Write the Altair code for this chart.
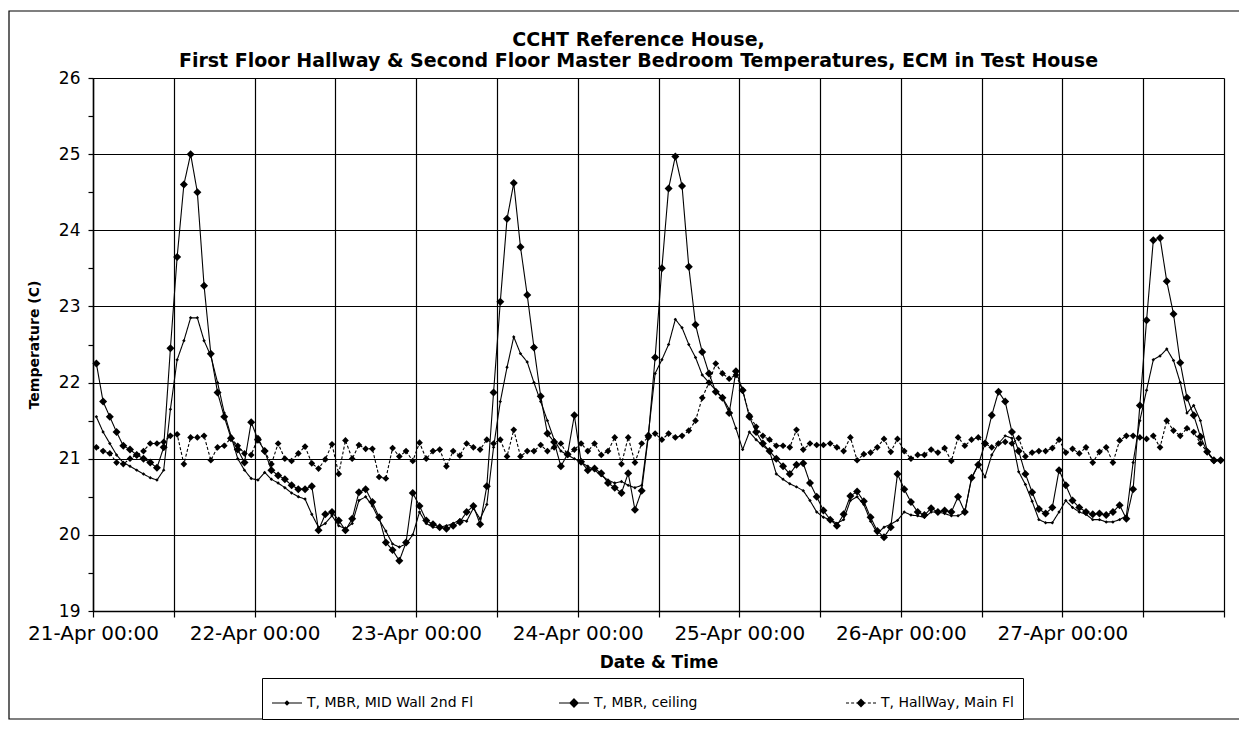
import altair as alt
import pandas as pd

SERIES = ["T, MBR, MID Wall 2nd Fl", "T, MBR, ceiling", "T, HallWay, Main Fl"]

# hourly readings, first reading 21-Apr 00:30
mid_wall = [
    21.55, 21.35, 21.2, 21.05, 20.95, 20.9, 20.85, 20.8, 20.75, 20.72, 20.85, 21.65,
    22.3, 22.55, 22.85, 22.85, 22.55, 22.35, 22.0, 21.6, 21.3, 21.0, 20.85, 20.74,
    20.72, 20.82, 20.73, 20.68, 20.62, 20.55, 20.5, 20.47, 20.27, 20.1, 20.15, 20.25,
    20.12, 20.08, 20.15, 20.45, 20.5, 20.38, 20.2, 20.05, 19.88, 19.84, 19.88, 20.0,
    20.3, 20.15, 20.1, 20.1, 20.12, 20.15, 20.2, 20.18, 20.35, 20.21, 20.4, 21.15,
    21.75, 22.2, 22.6, 22.38, 22.27, 22.0, 21.75, 21.5, 21.25, 21.1, 21.05, 21.0,
    20.95, 20.9, 20.85, 20.78, 20.72, 20.68, 20.7, 20.65, 20.62, 20.65, 21.33, 22.12,
    22.3, 22.5, 22.83, 22.72, 22.5, 22.33, 22.1, 22.0, 21.9, 21.8, 21.65, 21.4,
    21.12, 21.35, 21.25, 21.17, 21.1, 20.8, 20.73, 20.67, 20.63, 20.58, 20.45, 20.3,
    20.23, 20.2, 20.15, 20.2, 20.45, 20.5, 20.4, 20.18, 20.02, 20.1, 20.14, 20.19,
    20.3, 20.26, 20.25, 20.23, 20.3, 20.3, 20.28, 20.25, 20.25, 20.3, 20.74, 20.92,
    20.76, 21.05, 21.2, 21.3, 21.27, 20.83, 20.66, 20.44, 20.2, 20.16, 20.16, 20.3,
    20.45, 20.36, 20.3, 20.27, 20.2, 20.2, 20.17, 20.17, 20.2, 20.25, 20.95, 21.5,
    21.9, 22.3, 22.35, 22.44, 22.29, 22.0, 21.6, 21.7, 21.5, 21.1, 20.98, 20.97,
]

ceiling = [
    22.25, 21.75, 21.55, 21.35, 21.17, 21.12, 21.05, 21.0, 20.95, 20.88, 21.15, 22.45,
    23.65, 24.6, 25.0, 24.5, 23.27, 22.38, 21.87, 21.55, 21.27, 21.12, 20.95, 21.48,
    21.25, 21.1, 20.85, 20.78, 20.73, 20.65, 20.6, 20.6, 20.64, 20.06, 20.27, 20.3,
    20.19, 20.06, 20.21, 20.56, 20.6, 20.43, 20.23, 19.9, 19.8, 19.66, 19.9, 20.55,
    20.38, 20.19, 20.14, 20.1, 20.08, 20.12, 20.17, 20.3, 20.38, 20.14, 20.64, 21.87,
    23.06, 24.15, 24.62, 23.78, 23.15, 22.46, 21.82, 21.33, 21.22, 20.9, 21.06, 21.57,
    20.96, 20.85, 20.87, 20.81, 20.68, 20.62, 20.55, 20.81, 20.33, 20.58, 21.3, 22.33,
    23.5, 24.55, 24.97, 24.58, 23.52, 22.76, 22.4, 22.12, 21.88, 21.8, 21.6, 22.15,
    21.9, 21.55, 21.35, 21.2, 21.1, 21.0, 20.9, 20.8, 20.92, 20.94, 20.68, 20.5,
    20.32, 20.2, 20.12, 20.27, 20.51, 20.57, 20.44, 20.23, 20.05, 19.97, 20.1, 20.8,
    20.6, 20.43, 20.3, 20.26, 20.35, 20.3, 20.32, 20.3, 20.5, 20.3, 20.75, 20.92,
    21.2, 21.57, 21.88, 21.75, 21.35, 21.1, 20.8, 20.56, 20.34, 20.28, 20.36, 20.85,
    20.65, 20.45, 20.36, 20.3, 20.27, 20.28, 20.26, 20.3, 20.39, 20.21, 20.6, 21.7,
    22.82, 23.87, 23.9, 23.33, 22.9, 22.26, 21.8, 21.57, 21.29, 21.09, 20.98, 20.98,
]

hallway = [
    21.15, 21.1, 21.07, 20.95, 20.93, 21.0, 21.05, 21.1, 21.2, 21.2, 21.22, 21.3,
    21.32, 20.93, 21.28, 21.28, 21.3, 20.98, 21.15, 21.17, 21.27, 21.17, 21.07, 21.05,
    21.27, 21.1, 20.93, 21.2, 21.0, 20.97, 21.07, 21.16, 20.94, 20.87, 20.99, 21.19,
    20.8, 21.24, 21.0, 21.18, 21.13, 21.13, 20.76, 20.74, 21.14, 21.03, 21.1, 20.97,
    21.21, 21.0, 21.1, 21.12, 20.9, 21.1, 21.04, 21.2, 21.15, 21.12, 21.25, 21.2,
    21.25, 21.03, 21.38, 21.03, 21.1, 21.1, 21.18, 21.1, 21.15, 21.2, 21.05, 21.12,
    21.2, 21.1, 21.2, 21.05, 21.1, 21.28, 20.93, 21.28, 20.95, 21.2, 21.28, 21.33,
    21.25, 21.33, 21.28, 21.3, 21.37, 21.5, 21.8, 22.0, 22.25, 22.12, 22.05, 22.1,
    21.9, 21.57, 21.42, 21.3, 21.25, 21.17, 21.17, 21.15, 21.38, 21.12, 21.2, 21.18,
    21.18, 21.2, 21.15, 21.1, 21.28, 20.98, 21.06, 21.08, 21.15, 21.26, 21.09, 21.26,
    21.1, 21.0, 21.05, 21.05, 21.12, 21.08, 21.14, 20.97, 21.28, 21.17, 21.25, 21.28,
    21.2, 21.15, 21.2, 21.22, 21.2, 21.27, 21.03, 21.08, 21.1, 21.1, 21.14, 21.25,
    21.08, 21.13, 21.07, 21.15, 20.95, 21.09, 21.15, 20.95, 21.24, 21.3, 21.3, 21.28,
    21.26, 21.3, 21.15, 21.5, 21.37, 21.3, 21.4, 21.35, 21.2, 21.09, 20.97, 20.98,
]

TITLE = ["CCHT Reference House,",
         "First Floor Hallway & Second Floor Master Bedroom Temperatures, ECM in Test House"]
X_TITLE = "Date & Time"
Y_TITLE = "Temperature (C)"
Y_TICKS = [19, 19.5, 20, 20.5, 21, 21.5, 22, 22.5, 23, 23.5, 24, 24.5, 25, 25.5, 26]
TICK_DAYS = [21, 22, 23, 24, 25, 26, 27, 28]

# per-series styling keyed by name
DASH = {SERIES[0]: [1, 0], SERIES[1]: [1, 0], SERIES[2]: [3, 2]}
MARK_SIZE = {SERIES[0]: 12, SERIES[1]: 64, SERIES[2]: 45}
# reordered (but explicit) domain for the hidden dash scale, so its hidden
# legend is not merged with the visible shape legend
STYLE_DOMAIN = [SERIES[2], SERIES[0], SERIES[1]]

first_reading = "2003-04-21 00:30"
times = pd.date_range(first_reading, periods=len(ceiling), freq="h")
rows = []
for name, vals in zip(SERIES, [mid_wall, ceiling, hallway]):
    for t, v in zip(times, vals):
        rows.append({"time": t.strftime("%Y-%m-%dT%H:%M:%S"), "series": name, "temp": v})
df = pd.DataFrame(rows)

FONT = "DejaVu Sans"

x_ticks = []
for d in TICK_DAYS:
    for hh in (0, 12):
        if d == 28 and hh == 12:
            continue
        x_ticks.append(alt.DateTime(year=2003, month=4, date=d, hours=hh))

x_enc = alt.X(
    "time:T",
    scale=alt.Scale(domain=[alt.DateTime(year=2003, month=4, date=21),
                            alt.DateTime(year=2003, month=4, date=28)]),
    axis=alt.Axis(
        values=x_ticks,
        labelExpr="hours(datum.value) == 0 && date(datum.value) < 28 ? timeFormat(datum.value, '%d-%b %H:%M') : ''",
        labelFont=FONT, labelFontSize=20, labelColor="black",
        labelFlush=False, labelOverlap=False, labelBound=False,
        labelPadding=6, tickSize=6, tickColor="black", tickWidth=1.2,
        domainColor="black", domainWidth=1.5,
        grid=True, gridColor="black", gridWidth=1.2,
        title=X_TITLE, titleFont=FONT, titleFontSize=17, titleFontWeight="bold",
        titleColor="black", titlePadding=11,
    ),
)

y_enc = alt.Y(
    "temp:Q",
    scale=alt.Scale(domain=[19, 26], nice=False, zero=False),
    axis=alt.Axis(
        values=Y_TICKS,
        labelExpr="datum.value % 1 === 0 ? format(datum.value, 'd') : ''",
        labelFont=FONT, labelFontSize=17, labelColor="black", labelPadding=8,
        labelOverlap=False, labelFlush=False,
        tickSize=5, tickColor="black", tickWidth=1.2,
        domainColor="black", domainWidth=1.5,
        grid=True,
        gridColor={"condition": {"test": "datum.value % 1 === 0", "value": "black"},
                   "value": "transparent"},
        gridWidth=1.2,
        title=Y_TITLE, titleFont=FONT, titleFontSize=14, titleFontWeight="bold",
        titleColor="black", titlePadding=17,
    ),
)

base = alt.Chart(df)

frame = alt.Chart(alt.Data(values=[{}])).mark_rect(
    fillOpacity=0, stroke="black", strokeWidth=1.2
).encode(
    x=alt.value(-84), x2=alt.value(1200), y=alt.value(-67), y2=alt.value(641)
)

lines = base.mark_line(color="black", strokeWidth=1.1).encode(
    x=x_enc, y=y_enc,
    detail="series:N",
    strokeDash=alt.StrokeDash(
        "series:N",
        scale=alt.Scale(domain=STYLE_DOMAIN, range=[DASH[s] for s in STYLE_DOMAIN]),
        legend=None,
    ),
)

# one marker layer per series (fixed marker size for each)
marker_layers = [
    base.transform_filter(alt.datum.series == s).mark_point(
        filled=True, shape="diamond", color="black", opacity=1, size=MARK_SIZE[s]
    ).encode(x=x_enc, y=y_enc)
    for s in SERIES
]

# legend symbols: line segment(s) with a marker, drawn as strokes only
_solid_diamond_small = "M0,-0.13L0.13,0L0,0.13L-0.13,0ZM0,-0.06L0.06,0L0,0.06L-0.06,0Z"
_solid_diamond_big = ("M0,-0.27L0.27,0L0,0.27L-0.27,0Z"
                      "M0,-0.19L0.19,0L0,0.19L-0.19,0Z"
                      "M0,-0.11L0.11,0L0,0.11L-0.11,0Z"
                      "M0,-0.27L0,0.27")
_solid_diamond_mid = ("M0,-0.24L0.24,0L0,0.24L-0.24,0Z"
                      "M0,-0.16L0.16,0L0,0.16L-0.16,0Z"
                      "M0,-0.08L0.08,0L0,0.08L-0.08,0Z"
                      "M0,-0.24L0,0.24")
LEGEND_SHAPES = [
    "M-1,0L1,0" + _solid_diamond_small,
    "M-1,0L1,0" + _solid_diamond_big,
    "M-1,0L-0.8,0M-0.66,0L-0.46,0M-0.32,0L0.32,0M0.46,0L0.66,0M0.8,0L1,0" + _solid_diamond_mid,
]

# legend-only layer: rows filtered away, legend built from the explicit scale domain
legend_layer = base.transform_filter("datum.temp > 100").mark_point(
    filled=False, color="black", strokeWidth=1.2, size=900, opacity=1
).encode(
    x=x_enc, y=y_enc,
    shape=alt.Shape(
        "series:N",
        scale=alt.Scale(domain=SERIES, range=LEGEND_SHAPES),
        legend=alt.Legend(
            title=None, orient="none", legendX=169, legendY=600,
            direction="horizontal", columns=3, gridAlign="all", columnPadding=82,
            padding=9, strokeColor="black", fillColor="white",
            symbolSize=900, symbolStrokeColor="black", symbolStrokeWidth=1.2,
            symbolOpacity=1, labelLimit=0,
            labelFont=FONT, labelFontSize=14, labelColor="black", labelOffset=4,
        ),
    ),
)

chart = alt.layer(frame, lines, *marker_layers, legend_layer).properties(
    width=1131,
    height=533,
    padding={"left": 85, "top": 70, "right": 15, "bottom": 112},
    autosize=alt.AutoSizeParams(type="none"),
    title=alt.TitleParams(
        text=TITLE, font=FONT, fontSize=19, fontWeight="bold", color="black",
        anchor="middle", frame="group", dx=-20, offset=-61, lineHeight=21,
    ),
).configure_view(
    stroke="black", strokeWidth=1.5
).configure(background="white")

chart.save("out.html", embed_options={"renderer": "svg", "actions": False})
